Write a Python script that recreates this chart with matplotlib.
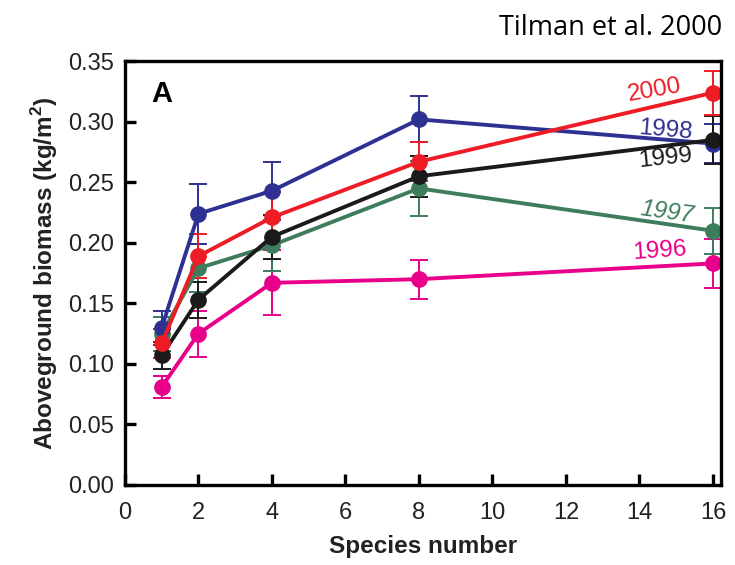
import numpy as np
import matplotlib
matplotlib.use("Agg")
import matplotlib.pyplot as plt

plt.rcParams['font.family'] = ['Liberation Sans', 'DejaVu Sans']

species = [1, 2, 4, 8, 16]

years = ["1996", "1997", "1998", "1999", "2000"]
colors = ["#e8008a", "#3d7d5c", "#2e3192", "#1a1a1a", "#ee1c25"]

biomass_1996 = [0.081, 0.125, 0.167, 0.170, 0.183]
biomass_1997 = [0.125, 0.179, 0.198, 0.245, 0.210]
biomass_1998 = [0.130, 0.224, 0.243, 0.302, 0.282]
biomass_1999 = [0.107, 0.153, 0.205, 0.255, 0.285]
biomass_2000 = [0.117, 0.189, 0.221, 0.267, 0.324]

err_1996 = [0.009, 0.019, 0.027, 0.016, 0.020]
err_1997 = [0.014, 0.020, 0.021, 0.023, 0.019]
err_1998 = [0.014, 0.025, 0.024, 0.019, 0.016]
err_1999 = [0.011, 0.015, 0.018, 0.017, 0.020]
err_2000 = [0.012, 0.018, 0.021, 0.016, 0.018]

biomass = [biomass_1996, biomass_1997, biomass_1998, biomass_1999, biomass_2000]
errors = [err_1996, err_1997, err_1998, err_1999, err_2000]

# where the year labels sit, and their tilt
label_x = [14.55, 14.75, 14.7, 14.7, 14.4]
label_y = [0.193, 0.225, 0.293, 0.270, 0.326]
label_rot = [4, -8, -5, 6, 10]

fig = plt.figure(figsize=(7.35, 5.65), dpi=100)
ax = fig.add_axes([0.170, 0.1416, 0.811, 0.750])

for yr, c, vals, err, lx, ly, rot in zip(years, colors, biomass, errors, label_x, label_y, label_rot):
    ax.errorbar(species, vals, yerr=err, color=c, lw=2.8, marker='o', ms=11,
                elinewidth=1.4, capsize=6.5, capthick=1.4)
    ax.text(lx, ly, yr, color=c, fontsize=17.5, rotation=rot, ha='center', va='center',
            style='italic' if yr == "1997" else 'normal')

ax.set_xlim(0, 16.22)
ax.set_ylim(0, 0.35)
ax.set_xticks(np.arange(0, 17, 2))
ax.set_yticks(np.arange(0, 0.351, 0.05))
ax.yaxis.set_major_formatter(matplotlib.ticker.FormatStrFormatter('%.2f'))
ax.tick_params(direction='in', length=8, width=2.4, labelsize=17, pad=8, labelcolor='#222222')
ax.tick_params(axis='x', pad=12)
for s in ax.spines.values():
    s.set_linewidth(2.4)

ax.set_xlabel('Species number', fontsize=17.5, fontweight='bold', labelpad=8, color='#222222')
ax.set_ylabel('Aboveground biomass (kg/m$^\\mathregular{2}$)', fontsize=17.5, fontweight='bold',
              labelpad=6, color='#222222')
ax.text(0.045, 0.955, 'A', transform=ax.transAxes, fontsize=21, fontweight='bold', va='top')

fig.text(0.983, 0.95, 'Tilman et al. 2000', fontsize=19.5, family=['Open Sans', 'DejaVu Sans'],
         ha='right', va='center')

fig.savefig('out.png', dpi=100)
